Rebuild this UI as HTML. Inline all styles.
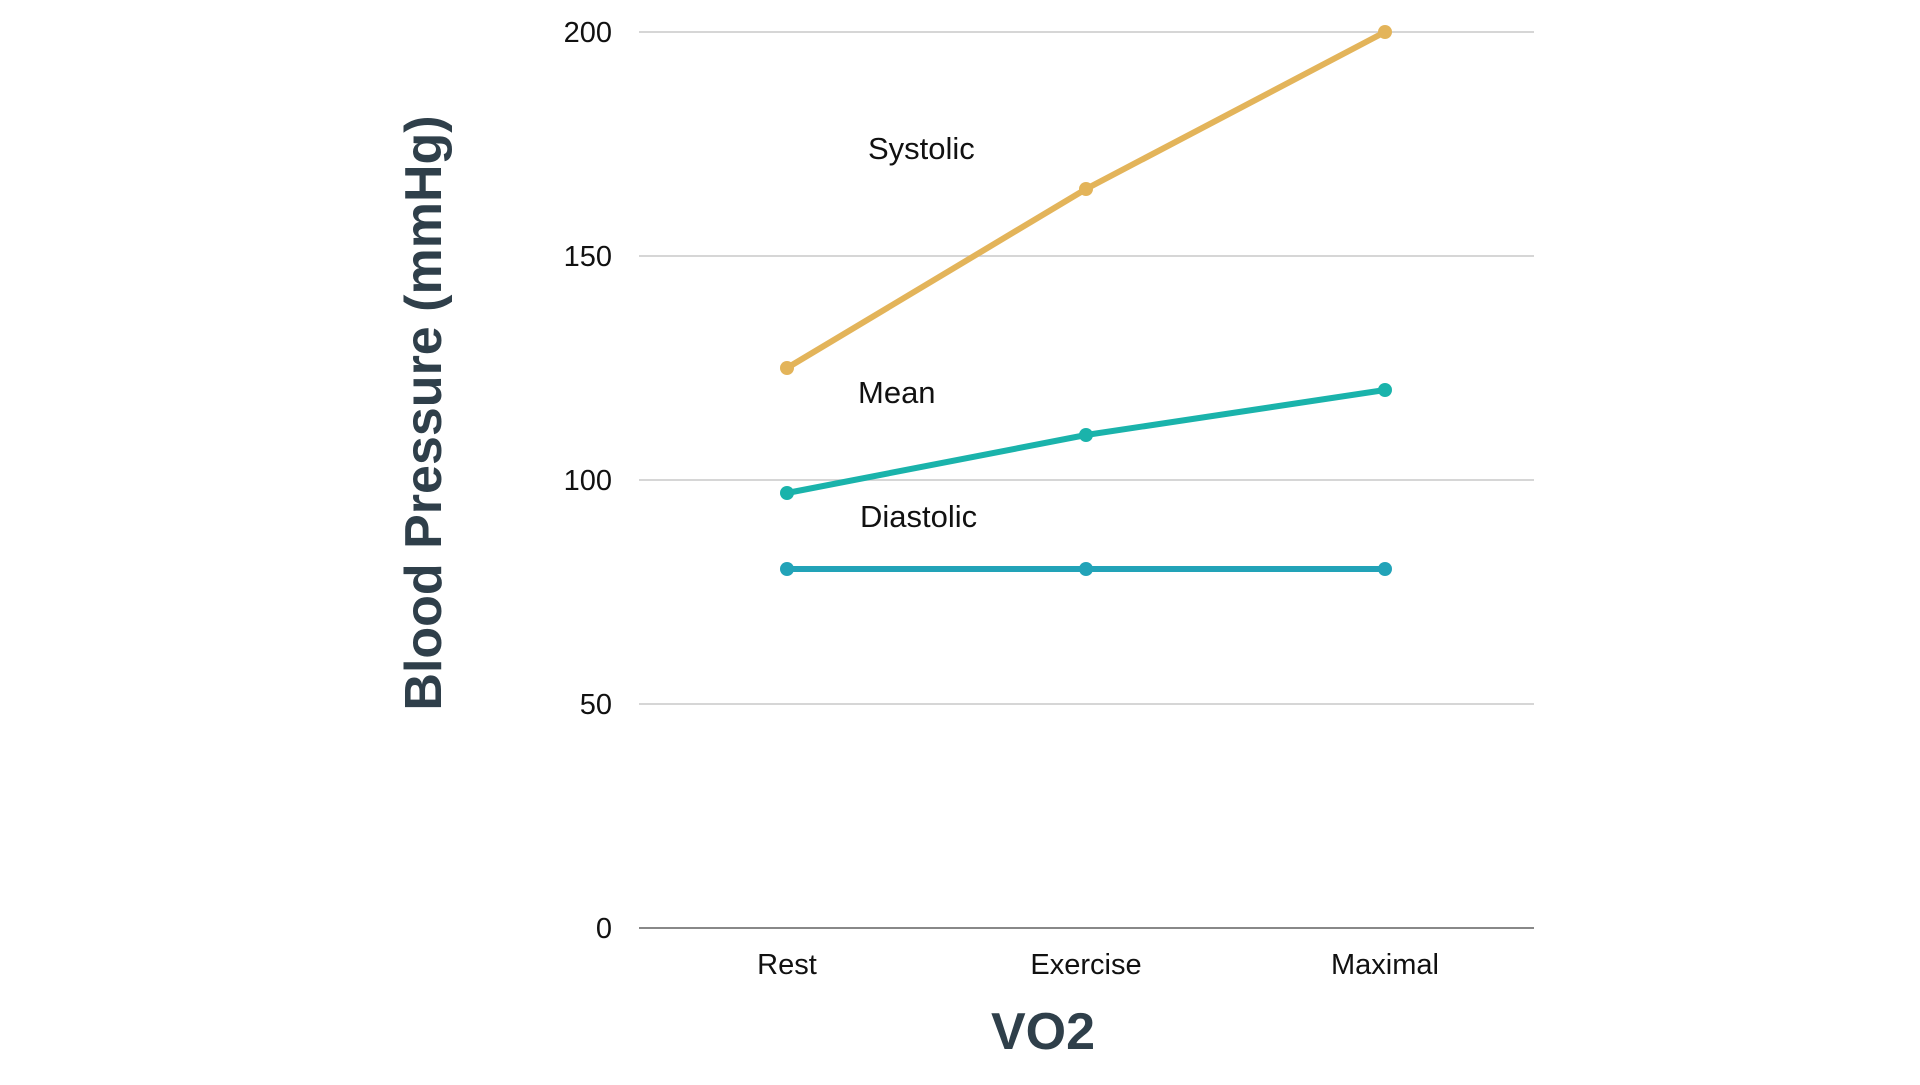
<!DOCTYPE html>
<html><head><style>
body{margin:0;background:#fff;}
svg text{font-family:"Liberation Sans",sans-serif;}
</style></head><body>
<svg width="1920" height="1080" viewBox="0 0 1920 1080" xmlns="http://www.w3.org/2000/svg">
<g stroke="#c8c8c8" stroke-width="1.5">
<line x1="639" y1="32" x2="1534" y2="32"/>
<line x1="639" y1="256" x2="1534" y2="256"/>
<line x1="639" y1="480" x2="1534" y2="480"/>
<line x1="639" y1="704" x2="1534" y2="704"/>
</g>
<line x1="639" y1="928" x2="1534" y2="928" stroke="#888" stroke-width="2"/>
<g font-size="29" fill="#111" text-anchor="end">
<text x="612" y="42">200</text>
<text x="612" y="266">150</text>
<text x="612" y="490">100</text>
<text x="612" y="714">50</text>
<text x="612" y="938">0</text>
</g>
<g font-size="29" fill="#111" text-anchor="middle">
<text x="787" y="974">Rest</text>
<text x="1086" y="974">Exercise</text>
<text x="1385" y="974">Maximal</text>
</g>
<text x="1043" y="1049" font-size="52" font-weight="bold" fill="#2f3f4a" text-anchor="middle">VO2</text>
<text transform="translate(441,413) rotate(-90)" font-size="52" font-weight="bold" fill="#2f3f4a" text-anchor="middle">Blood Pressure (mmHg)</text>
<polyline points="787,368 1086,189 1385,32" fill="none" stroke="#e3b45a" stroke-width="6"/>
<polyline points="787,493 1086,435 1385,390" fill="none" stroke="#1ab3ab" stroke-width="6"/>
<polyline points="787,569 1086,569 1385,569" fill="none" stroke="#22a3b8" stroke-width="6"/>
<g fill="#e3b45a"><circle cx="787" cy="368" r="7"/><circle cx="1086" cy="189" r="7"/><circle cx="1385" cy="32" r="7"/></g>
<g fill="#1ab3ab"><circle cx="787" cy="493" r="7"/><circle cx="1086" cy="435" r="7"/><circle cx="1385" cy="390" r="7"/></g>
<g fill="#22a3b8"><circle cx="787" cy="569" r="7"/><circle cx="1086" cy="569" r="7"/><circle cx="1385" cy="569" r="7"/></g>
<g font-size="31" fill="#111">
<text x="868" y="159">Systolic</text>
<text x="858" y="403">Mean</text>
<text x="860" y="527">Diastolic</text>
</g>
</svg>
</body></html>
